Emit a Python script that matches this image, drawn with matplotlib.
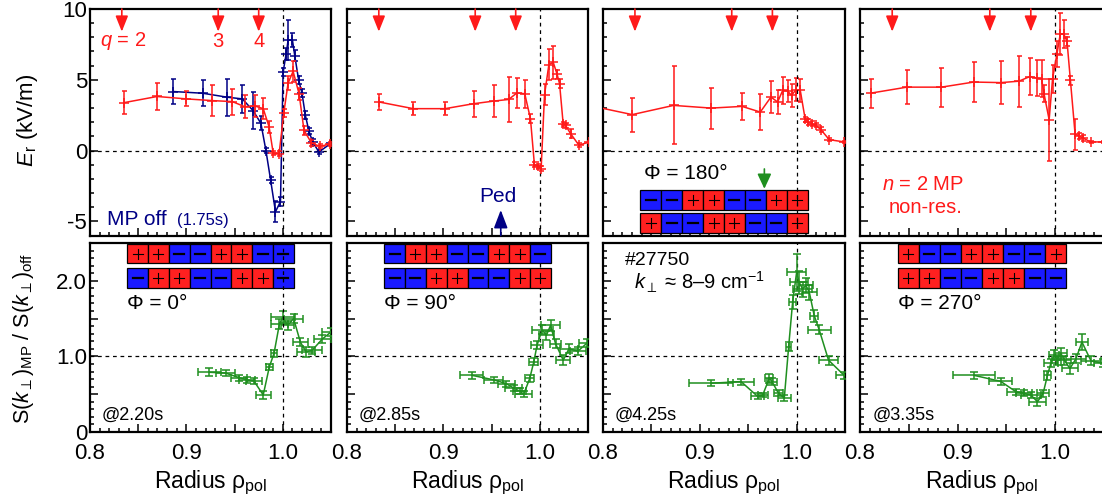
import matplotlib
matplotlib.use('Agg')
import matplotlib.pyplot as plt
from matplotlib.patches import Rectangle
from matplotlib.ticker import MultipleLocator, FuncFormatter

plt.rcParams['font.family'] = ['Liberation Sans', 'DejaVu Sans']
plt.rcParams['mathtext.fontset'] = 'custom'
plt.rcParams['mathtext.rm'] = 'Liberation Sans'
plt.rcParams['mathtext.it'] = 'Liberation Sans:italic'
plt.rcParams['axes.unicode_minus'] = False

RED = '#ff1a1a'
NAVY = '#000085'
GREEN = '#1f8f1f'
CELL_RED = '#ff2020'
CELL_BLUE = '#1a1aff'

# rational surfaces q = 2, 3, 4
q_rho = [0.833, 0.933, 0.975]
q_lab = ['2', '3', '4']

# ---- E_r with MP on (top row, phase 0, 90, 180, 270 deg) ----
er0_rho = [0.8357, 0.8696, 0.900, 0.9266, 0.9476, 0.9605, 0.971, 0.9797, 0.9858, 0.990,
           0.9962, 1.001, 1.0055, 1.0107, 1.0169, 1.022, 1.0297, 1.0383, 1.0487]
er0_val = [3.39, 3.82, 3.65, 3.53, 3.46, 3.10, 3.15, 2.96, 1.67, -0.16,
           -0.21, 2.65, 4.77, 5.6, 4.0, 1.43, 0.54, 0.30, 0.45]
er0_err = [0.83, 0.92, 0.53, 1.07, 0.92, 0.83, 0.80, 0.75, 0.45, 0.15,
           0.15, 0.3, 0.5, 0.75, 0.45, 0.3, 0.2, 0.15, 0.15]

er90_rho = [0.8333, 0.8688, 0.9017, 0.9313, 0.9528, 0.9677, 0.9764, 0.9844, 0.9903, 0.9944, 0.9979,
            1.0014, 1.0049, 1.0094, 1.0139, 1.018, 1.0205, 1.0243, 1.0267, 1.0319, 1.0406, 1.051]
er90_val = [3.43, 2.96, 2.96, 3.31, 3.50, 3.61, 4.08, 4.01, 2.25, -0.99, -1.08,
            -1.27, 3.94, 6.06, 6.24, 5.38, 4.72, 1.85, 1.78, 1.2, 0.38, 0.6]
er90_err = [0.56, 0.47, 0.47, 0.92, 1.1, 1.6, 1.05, 1.0, 0.3, 0.15, 0.15,
            0.15, 0.75, 1.1, 1.15, 0.3, 0.3, 0.2, 0.2, 0.3, 0.15, 0.1]

er180_rho = [0.795, 0.8302, 0.8729, 0.9117, 0.9436, 0.9625, 0.9735, 0.9804, 0.9856, 0.9907,
             0.9948, 0.9993, 1.0038, 1.0089, 1.012, 1.0158, 1.0199, 1.0251, 1.0337, 1.0491]
er180_val = [3.05, 2.54, 3.19, 3.0, 3.12, 2.72, 3.78, 3.43, 4.25, 4.2,
             3.9, 4.3, 4.25, 2.2, 2.02, 1.9, 1.78, 1.48, 0.77, 0.61]
er180_err = [0.8, 1.2, 2.76, 1.45, 0.97, 1.3, 1.1, 0.85, 0.95, 0.77,
             0.8, 0.8, 0.8, 0.2, 0.2, 0.2, 0.15, 0.15, 0.1, 0.1]

er270_rho = [0.8113, 0.848, 0.8834, 0.9166, 0.9443, 0.9627, 0.9741, 0.981, 0.986, 0.9886, 0.9938,
             0.9973, 1.0018, 1.0052, 1.0087, 1.0121, 1.0156, 1.0204, 1.024, 1.028, 1.0363, 1.049]
er270_val = [4.06, 4.48, 4.48, 4.84, 4.8, 4.9, 5.23, 5.12, 5.07, 4.0, 2.18,
             5.07, 6.83, 8.24, 8.24, 7.72, 4.95, 1.15, 1.05, 0.9, 0.61, 0.61]
er270_err = [1.02, 1.2, 1.38, 1.4, 1.5, 1.8, 1.3, 1.3, 1.3, 0.6, 2.9,
             1.0, 0.9, 1.5, 1.0, 0.3, 0.3, 1.1, 0.2, 0.2, 0.1, 0.1]

# E_r with MP off (1.75 s), only in first panel
eroff_rho = [0.8864, 0.9168, 0.9423, 0.958, 0.9692, 0.9773, 0.9825, 0.9874, 0.9924, 0.9976, 1.0003,
             1.0035, 1.0055, 1.010, 1.0124, 1.0164, 1.0199, 1.0234, 1.027, 1.031, 1.0375, 1.0497]
eroff_val = [4.17, 4.05, 3.77, 3.65, 2.82, 1.92, 0.0, -2.1, -4.32, -3.6, 5.54,
             6.83, 7.8, 7.8, 6.7, 5.0, 4.05, 2.5, 1.4, 0.6, -0.1, 0.5]
eroff_err = [0.9, 0.9, 1.3, 1.0, 1.3, 0.5, 0.2, 0.2, 0.75, 0.3, 0.3,
             0.4, 1.4, 0.5, 0.4, 0.3, 0.3, 0.3, 0.2, 0.2, 0.15, 0.15]

# ---- S(k)_MP / S(k)_off (bottom row) ----
s0_rho = [0.9238, 0.9406, 0.9545, 0.963, 0.970, 0.9797, 0.986, 0.9909, 0.9965, 1.0, 1.005,
          1.0112, 1.0182, 1.0241, 1.0304, 1.041, 1.0497]
s0_val = [0.79, 0.78, 0.72, 0.69, 0.675, 0.49, 0.86, 1.04, 1.43, 1.52, 1.41,
          1.5, 1.19, 1.06, 1.08, 1.23, 1.32]
s0_xe = [0.0122, 0.010, 0.008, 0.008, 0.008, 0.008, 0.0035, 0.0035, 0.009, 0.0126, 0.007,
         0.010, 0.008, 0.009, 0.010, 0.009, 0.009]
s0_ye = [0.05, 0.04, 0.04, 0.04, 0.04, 0.05, 0.04, 0.05, 0.07, 0.08, 0.06,
         0.06, 0.05, 0.07, 0.05, 0.05, 0.05]

s90_rho = [0.9295, 0.9521, 0.9653, 0.9729, 0.9792, 0.9833, 0.9896, 0.9938, 0.9972, 1.0024, 1.0069,
           1.0111, 1.0163, 1.0243, 1.0302, 1.0396, 1.0493]
s90_val = [0.75, 0.69, 0.64, 0.58, 0.54, 0.50, 0.71, 0.93, 1.15, 1.35, 1.28,
           1.41, 1.17, 0.95, 1.10, 1.07, 1.18]
s90_xe = [0.012, 0.0095, 0.0087, 0.0087, 0.007, 0.0087, 0.0045, 0.0045, 0.006, 0.011, 0.008,
          0.0095, 0.0055, 0.007, 0.0095, 0.0087, 0.0087]
s90_ye = [0.05, 0.04, 0.04, 0.04, 0.04, 0.04, 0.05, 0.05, 0.05, 0.06, 0.06,
          0.07, 0.06, 0.07, 0.06, 0.05, 0.05]

s180_rho = [0.9117, 0.9426, 0.9598, 0.965, 0.9718, 0.9746, 0.9814, 0.9873, 0.9918, 0.9959,
            1.0, 1.0027, 1.0062, 1.0096, 1.0131, 1.0182, 1.0234, 1.033, 1.0491]
s180_val = [0.645, 0.667, 0.47, 0.49, 0.71, 0.667, 0.51, 0.45, 1.13, 1.72,
            2.11, 1.98, 1.89, 1.94, 1.85, 1.54, 1.35, 0.95, 0.75]
s180_xe = [0.0229, 0.0134, 0.0069, 0.005, 0.0043, 0.005, 0.005, 0.007, 0.0026, 0.0034,
           0.0095, 0.0095, 0.010, 0.007, 0.0077, 0.0043, 0.012, 0.0095, 0.0086]
s180_ye = [0.04, 0.04, 0.04, 0.03, 0.06, 0.05, 0.04, 0.04, 0.06, 0.09,
           0.24, 0.15, 0.10, 0.10, 0.10, 0.08, 0.06, 0.06, 0.05]

s270_rho = [0.9166, 0.9441, 0.9595, 0.9681, 0.975, 0.9818, 0.9876, 0.9921, 0.9955, 0.999, 1.0014,
            1.0058, 1.0093, 1.0151, 1.0213, 1.0274, 1.0367, 1.0487]
s270_val = [0.75, 0.67, 0.535, 0.51, 0.49, 0.40, 0.51, 0.75, 0.91, 1.02, 0.95,
            1.04, 0.95, 0.84, 0.97, 1.19, 0.94, 0.91]
s270_xe = [0.0214, 0.012, 0.0086, 0.0086, 0.010, 0.0086, 0.006, 0.0034, 0.0069, 0.005, 0.005,
           0.006, 0.007, 0.0086, 0.010, 0.006, 0.010, 0.009]
s270_ye = [0.05, 0.05, 0.04, 0.04, 0.04, 0.05, 0.05, 0.06, 0.05, 0.07, 0.06,
           0.07, 0.06, 0.07, 0.06, 0.11, 0.06, 0.05]

# coil current pattern (upper / lower row) and labels
coil_up = ['++--++--', '-++--++-', '--++--++', '+--++--+']
coil_lo = ['-++--++-', '--++--++', '+--++--+', '++--++--']
phase_lab = ['Φ = 0°', 'Φ = 90°', 'Φ = 180°', 'Φ = 270°']
time_lab = ['@2.20s', '@2.85s', '@4.25s', '@3.35s']

er_sets = [(er0_rho, er0_val, er0_err), (er90_rho, er90_val, er90_err),
           (er180_rho, er180_val, er180_err), (er270_rho, er270_val, er270_err)]
s_sets = [(s0_rho, s0_val, s0_xe, s0_ye), (s90_rho, s90_val, s90_xe, s90_ye),
          (s180_rho, s180_val, s180_xe, s180_ye), (s270_rho, s270_val, s270_xe, s270_ye)]

W, H = 1102, 499
fig = plt.figure(figsize=(W / 100, H / 100), dpi=100)

lefts = [90, 347, 603, 860]
widths = [241, 241, 242, 244]


def xfmt(v, p):
    for t in (0.8, 0.9, 1.0):
        if abs(v - t) < 1e-6:
            return '%.1f' % t
    return ''


def sfmt(v, p):
    return {0: '0', 10: '1.0', 20: '2.0'}.get(int(round(v * 10)), '')


def style(ax, bottom):
    for s in ax.spines.values():
        s.set_linewidth(1.6)
    ax.set_xlim(0.8, 1.05)
    ax.xaxis.set_major_locator(MultipleLocator(0.05))
    ax.xaxis.set_minor_locator(MultipleLocator(0.01))
    ax.xaxis.set_major_formatter(FuncFormatter(xfmt))
    ax.tick_params(which='both', direction='in', top=False, right=False, width=1.1,
                   labelsize=16, pad=2)
    ax.tick_params(axis='x', pad=8)
    ax.tick_params(which='major', length=6)
    ax.tick_params(which='minor', length=3)
    if not bottom:
        ax.tick_params(axis='x', labelbottom=False)


def draw_cells(ax, pattern, y0, h, hpx):
    x0, w = 0.154, 0.0865
    wpx = ax.get_position().width * W
    ax_x, ax_y = 5.0 / wpx, 5.0 / hpx
    for k, s in enumerate(pattern):
        c = CELL_RED if s == '+' else CELL_BLUE
        ax.add_patch(Rectangle((x0 + k * w, y0), w, h, transform=ax.transAxes,
                               facecolor=c, edgecolor='black', lw=0.9, zorder=4, clip_on=False))
        cx, cy = x0 + (k + 0.5) * w, y0 + h / 2
        if s == '+':
            ax.plot([cx - ax_x, cx + ax_x], [cy, cy], color='black', lw=0.8,
                    transform=ax.transAxes, zorder=5, clip_on=False)
            ax.plot([cx, cx], [cy - ax_y, cy + ax_y], color='black', lw=0.8,
                    transform=ax.transAxes, zorder=5, clip_on=False)
        else:
            ax.plot([cx - ax_x, cx + ax_x], [cy, cy], color='black', lw=1.6,
                    transform=ax.transAxes, zorder=5, clip_on=False)


def arrow(ax, x, y_from, y_to, color, hl=0.95, hw=0.38):
    ax.annotate('', xy=(x, y_to), xytext=(x, y_from), annotation_clip=False,
                arrowprops=dict(arrowstyle='-|>,head_length=%g,head_width=%g' % (hl, hw),
                                color=color, lw=1.2, shrinkA=0, shrinkB=0, mutation_scale=10))


dash = (0, (3, 3))
for i in range(4):
    # top row: E_r
    at = fig.add_axes([lefts[i] / W, (H - 235.5) / H, widths[i] / W, 226.5 / H])
    style(at, False)
    at.set_ylim(-6, 10)
    at.yaxis.set_major_locator(MultipleLocator(5))
    at.yaxis.set_minor_locator(MultipleLocator(1))
    if i > 0:
        at.tick_params(axis='y', labelleft=False)
    at.axhline(0, color='black', lw=0.9, ls=dash, zorder=1)
    at.axvline(1.0, color='black', lw=0.9, ls=dash, zorder=6 if i == 2 else 1)
    r, v, e = er_sets[i]
    if i == 0:
        at.errorbar(eroff_rho, eroff_val, yerr=eroff_err, color=NAVY, lw=1.1, marker='+',
                    ms=7, mew=1.1, capsize=1.8, capthick=1.1, elinewidth=1.1, zorder=2)
    at.errorbar(r, v, yerr=e, color=RED, lw=1.1, marker='+', ms=7, mew=1.1,
                capsize=1.8, capthick=1.1, elinewidth=1.1, zorder=3)
    for xq in q_rho:
        arrow(at, xq, 10.0, 8.4, RED)

    # bottom row: fluctuation ratio
    ab = fig.add_axes([lefts[i] / W, (H - 432) / H, widths[i] / W, 189 / H])
    style(ab, True)
    ab.set_ylim(0, 2.5)
    ab.yaxis.set_major_locator(MultipleLocator(0.5))
    ab.yaxis.set_minor_locator(MultipleLocator(0.1))
    ab.yaxis.set_major_formatter(FuncFormatter(sfmt))
    if i > 0:
        ab.tick_params(axis='y', labelleft=False)
    ab.axhline(1.0, color='black', lw=0.9, ls=dash, zorder=1)
    ab.axvline(1.0, color='black', lw=0.9, ls=dash, zorder=6 if i == 0 else 1)
    r, v, xe, ye = s_sets[i]
    ab.errorbar(r, v, xerr=xe, yerr=ye, color=GREEN, lw=1.1, capsize=3, capthick=1.1,
                elinewidth=1.1, zorder=3)
    ab.set_xlabel('Radius ρ$_{\\rm pol}$', fontsize=16.5, labelpad=3)
    ab.text(0.05, 0.09, time_lab[i], transform=ab.transAxes, fontsize=13,
            ha='left', va='center')

    if i == 2:
        draw_cells(at, coil_up[i], 0.113, 0.088, 226.5)
        draw_cells(at, coil_lo[i], 0.009, 0.089, 226.5)
        at.text(0.17, 0.272, phase_lab[i], transform=at.transAxes, fontsize=15,
                ha='left', va='center')
        arrow(at, 0.9667, -1.3, -2.7, GREEN, hl=0.9, hw=0.42)
    else:
        draw_cells(ab, coil_up[i], 0.893, 0.100, 189)
        draw_cells(ab, coil_lo[i], 0.763, 0.106, 189)
        ab.text(0.155, 0.68, phase_lab[i], transform=ab.transAxes, fontsize=15,
                ha='left', va='center')

    if i == 0:
        at.text(0.043, 0.86, '$q$ = 2', transform=at.transAxes, color=RED, fontsize=14.5,
                ha='left', va='center')
        for xq, lab in zip(q_rho[1:], q_lab[1:]):
            at.text(xq, 7.7, lab, color=RED, fontsize=14.5, ha='center', va='center')
        at.text(0.07, 0.07, 'MP off', transform=at.transAxes, color=NAVY, fontsize=15,
                ha='left', va='center')
        at.text(0.36, 0.065, '(1.75s)', transform=at.transAxes, color=NAVY, fontsize=12,
                ha='left', va='center')
    if i == 1:
        at.text(0.956, -3.25, 'Ped', color=NAVY, fontsize=15, ha='center', va='center')
        arrow(at, 0.9595, -6.0, -4.2, NAVY, hl=1.1, hw=0.42)
    if i == 2:
        ab.text(0.09, 0.905, '#27750', transform=ab.transAxes, fontsize=14,
                ha='left', va='center')
        ab.text(0.13, 0.79, '$k_{\\perp}$ ≈ 8–9 cm$^{-1}$', transform=ab.transAxes,
                fontsize=14.5, ha='left', va='center')
    if i == 3:
        at.text(0.26, 0.225, '$n$ = 2 MP', transform=at.transAxes, color=RED, fontsize=14.5,
                ha='center', va='center')
        at.text(0.27, 0.125, 'non-res.', transform=at.transAxes, color=RED, fontsize=14.5,
                ha='center', va='center')

fig.text(28 / W, 1 - 120 / H, '$E$$_{\\rm r}$ (kV/m)', rotation=90, fontsize=16,
         ha='center', va='center')
fig.text(24 / W, 1 - 338 / H, 'S($k_{\\perp}$)$_{\\rm MP}$ / S($k_{\\perp}$)$_{\\rm off}$',
         rotation=90, fontsize=15.5, ha='center', va='center')

fig.savefig('out.png', dpi=100)
